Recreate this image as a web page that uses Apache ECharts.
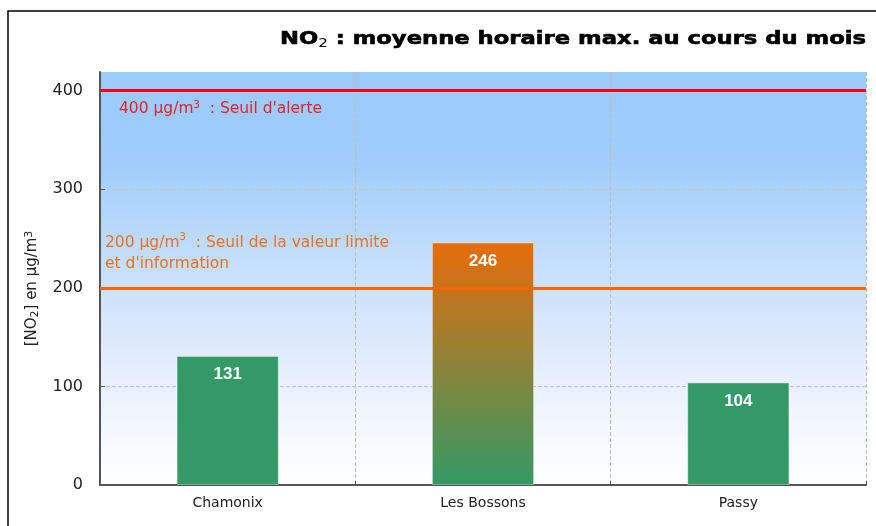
<!DOCTYPE html>
<html><head><meta charset="utf-8">
<script src="https://cdn.jsdelivr.net/npm/echarts@6/dist/echarts.min.js"></script>
<style>html,body{margin:0;padding:0;background:#fff}#c{width:876px;height:526px}</style>
</head><body><div id="c"></div>
<script>
const categories = ['Chamonix', 'Les Bossons', 'Passy'];
const values = [131, 246, 104];
const yTicks = [0, 100, 200, 300, 400];
const alertThreshold = 400;
const infoThreshold = 200;
const yMax = 419;

const green = '#339966';
const orangeGrad = new echarts.graphic.LinearGradient(0, 0, 0, 1, [
  {offset: 0, color: '#e86c0a'}, {offset: 1, color: '#339966'}]);
const FONT = 'DejaVu Sans';

const chart = echarts.init(document.getElementById('c'), null, {renderer: 'canvas'});
chart.setOption({
  animation: false,
  backgroundColor: '#fff',
  graphic: [{
    type: 'rect', silent: true,
    shape: {x: 8, y: 11, width: 1000, height: 1000},
    style: {fill: 'none', stroke: '#000', lineWidth: 1.5}
  }, {
    type: 'text', silent: true,
    x: 866, y: 39, scaleX: 1.26, originX: 0, originY: 0,
    style: {
      text: 'NO{sub|2} : moyenne horaire max. au cours du mois',
      align: 'right', verticalAlign: 'middle',
      fontFamily: FONT, fontWeight: 'bold', fontSize: 18, fill: '#000',
      stroke: '#000', lineWidth: 0.6,
      rich: {sub: {fontFamily: FONT, fontSize: 12, fontWeight: 'normal', verticalAlign: 'bottom', padding: [9, 0, 0, 0], fill: '#000', color: '#000', lineWidth: 0}}
    }
  }],
  grid: {
    left: 100, right: 10, top: 72, bottom: 41,
    show: true, borderWidth: 0,
    backgroundColor: new echarts.graphic.LinearGradient(0, 0, 0, 1, [
      {offset: 0, color: '#9acbfd'},
      {offset: 0.22, color: '#a0cdfc'},
      {offset: 0.45, color: '#c3defc'},
      {offset: 0.65, color: '#dde9fc'},
      {offset: 0.8, color: '#eef4fe'},
      {offset: 1, color: '#ffffff'}
    ])
  },
  xAxis: {
    type: 'category', data: categories,
    axisLine: {lineStyle: {color: '#555', width: 2}},
    axisTick: {show: true, inside: true, length: 4, lineStyle: {color: '#555'}},
    axisLabel: {color: '#222', fontFamily: FONT, fontSize: 14, margin: 11},
    splitLine: {show: true, lineStyle: {color: '#bdbdbd', type: 'dashed', width: 1}}
  },
  yAxis: {
    type: 'value', min: 0, max: yMax, interval: 100,
    name: '[NO{sub|2}] en µg/m{sup|3}',
    nameLocation: 'middle', nameGap: 59,
    nameTextStyle: {
      color: '#222', fontFamily: FONT, fontSize: 15, padding: [0, 20, 0, 0],
      rich: {
        sub: {fontSize: 11, fontFamily: FONT, color: '#222', verticalAlign: 'bottom', padding: [6, 0, 0, 0]},
        sup: {fontSize: 11, fontFamily: FONT, color: '#222', verticalAlign: 'top', padding: [0, 0, 6, 0]}
      }
    },
    axisLine: {show: true, lineStyle: {color: '#555', width: 2}},
    axisTick: {show: true, inside: true, length: 5, lineStyle: {color: '#555'}, customValues: yTicks},
    axisLabel: {
      color: '#222', fontFamily: FONT, fontSize: 16, margin: 17,
      formatter: v => (yTicks.indexOf(v) >= 0 ? String(v) : '')
    },
    splitLine: {show: true, lineStyle: {color: '#c4c4c4', type: 'dashed', width: 1}}
  },
  series: [{
    type: 'bar',
    barWidth: '40%',
    data: values.map(v => ({
      value: v,
      itemStyle: {color: v > infoThreshold ? orangeGrad : green, borderColor: 'rgba(255,255,255,0.35)', borderWidth: 1}
    })),
    label: {
      show: true, position: 'insideTop', distance: 10,
      color: '#fff', fontFamily: 'Liberation Sans', fontWeight: 'bold', fontSize: 17
    },
    markLine: {
      silent: true, symbol: 'none',
      data: [
        {
          yAxis: alertThreshold,
          lineStyle: {color: '#ff0000', width: 3, type: 'solid'},
          label: {
            show: true, position: 'insideStartBottom', distance: [19, 10],
            formatter: '400 µg/m{sup|3}  : Seuil d\'alerte',
            color: '#e8202a', fontFamily: FONT, fontSize: 15.5,
            rich: {sup: {fontSize: 10, color: '#e8202a', fontFamily: FONT, verticalAlign: 'top', padding: [0, 0, 6, 0]}}
          }
        },
        {
          yAxis: infoThreshold,
          lineStyle: {color: '#ff6600', width: 3, type: 'solid'},
          label: {
            show: true, position: 'insideStartTop', distance: [5, 13],
            formatter: '200 µg/m{sup|3}  : Seuil de la valeur limite\net d\'information',
            color: '#f07020', fontFamily: FONT, fontSize: 15.5, lineHeight: 21,
            rich: {sup: {fontSize: 10, color: '#f07020', fontFamily: FONT, verticalAlign: 'top', padding: [0, 0, 6, 0]}}
          }
        }
      ]
    }
  }]
});
</script></body></html>
